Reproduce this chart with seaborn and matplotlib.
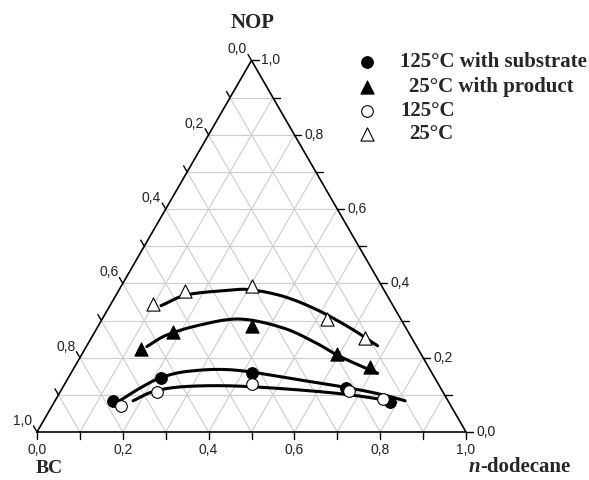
import numpy as np
import pandas as pd
import matplotlib
matplotlib.use("Agg")
import matplotlib.pyplot as plt
import seaborn as sns

sns.set_style("white")
plt.rcParams['font.family'] = ['Liberation Sans', 'DejaVu Sans']

# ---- data: ternary compositions (mass fraction n-dodecane, NOP); BC = 1 - sum ----
series_names = ["125°C with substrate", "25°C with product", "125°C", "25°C"]

dod_sub125 = [0.136, 0.217, 0.423, 0.661, 0.782]
nop_sub125 = [0.084, 0.145, 0.158, 0.119, 0.082]

dod_prod25 = [0.131, 0.184, 0.359, 0.595, 0.688]
nop_prod25 = [0.223, 0.268, 0.286, 0.210, 0.176]

dod_125 = [0.161, 0.225, 0.437, 0.671, 0.763]
nop_125 = [0.071, 0.109, 0.129, 0.111, 0.088]

dod_25 = [0.099, 0.155, 0.305, 0.525, 0.638]
nop_25 = [0.344, 0.380, 0.394, 0.304, 0.253]

# binodal curve nodes
cdod_sub125 = [0.149, 0.181, 0.214, 0.268, 0.374, 0.543, 0.671, 0.757, 0.816]
cnop_sub125 = [0.082, 0.118, 0.145, 0.163, 0.167, 0.140, 0.118, 0.100, 0.084]

cdod_prod25 = [0.141, 0.172, 0.236, 0.321, 0.434, 0.532, 0.605, 0.715]
cnop_prod25 = [0.230, 0.261, 0.288, 0.304, 0.280, 0.239, 0.203, 0.158]

cdod_125 = [0.182, 0.217, 0.280, 0.396, 0.557, 0.680, 0.781]
cnop_125 = [0.084, 0.109, 0.122, 0.124, 0.113, 0.100, 0.084]

cdod_25 = [0.119, 0.164, 0.252, 0.305, 0.392, 0.488, 0.590, 0.678]
cnop_25 = [0.340, 0.369, 0.381, 0.383, 0.365, 0.329, 0.280, 0.232]

tick_values = [0.0, 0.2, 0.4, 0.6, 0.8, 1.0]
tick_labels = ["0,0", "0,2", "0,4", "0,6", "0,8", "1,0"]

H = np.sqrt(3) / 2


def to_xy(dod, nop):
    dod = np.asarray(dod, float)
    nop = np.asarray(nop, float)
    return dod + nop / 2, nop * H


def catmull(px, py, n=25):
    P = np.column_stack([px, py])
    P = np.vstack([2 * P[0] - P[1], P, 2 * P[-1] - P[-2]])
    out = []
    t = np.linspace(0, 1, n, endpoint=False)[:, None]
    for i in range(1, len(P) - 2):
        p0, p1, p2, p3 = P[i - 1], P[i], P[i + 1], P[i + 2]
        out.append(0.5 * ((2 * p1) + (-p0 + p2) * t + (2 * p0 - 5 * p1 + 4 * p2 - p3) * t ** 2
                          + (-p0 + 3 * p1 - 3 * p2 + p3) * t ** 3))
    out.append(P[-2][None])
    o = np.vstack(out)
    return o[:, 0], o[:, 1]


W, Hh = 589, 480
fig = plt.figure(figsize=(W / 100, Hh / 100), dpi=100)
ax = fig.add_axes([0, 0, 1, 1])
S = 429.0
X0, Y0 = 37, 432
ax.set_xlim(-X0 / S, (W - X0) / S)
ax.set_ylim(-(Hh - Y0) / S, Y0 / S)
ax.axis('off')

# grid
grid_c = '#cccccc'
for v in np.arange(1, 10) / 10:
    for (d0, n0, d1, n1) in [(0, v, 1 - v, v), (v, 0, v, 1 - v), (1 - v, 0, 0, 1 - v)]:
        gx, gy = to_xy([d0, d1], [n0, n1])
        ax.plot(gx, gy, color=grid_c, lw=0.8, zorder=1)

# triangle edges
ex, ey = to_xy([0, 1, 0, 0], [0, 0, 1, 0])
ax.plot(ex, ey, color='black', lw=1.2, zorder=3, solid_joinstyle='miter')

# ticks
L = 7 / S
fs_tick = 10
for v in np.arange(0, 11) / 10:
    bx, by = to_xy(v, 0)
    ax.plot([bx, bx], [by, by - L], color='black', lw=1.0, zorder=3)
    rx, ry = to_xy(1 - v, v)
    ax.plot([rx, rx + L], [ry, ry], color='black', lw=1.0, zorder=3)
    lx, ly = to_xy(0, 1 - v)
    ax.plot([lx, lx - 0.5 * L], [ly, ly + H * L], color='black', lw=1.0, zorder=3)

for v, lab in zip(tick_values, tick_labels):
    bx, by = to_xy(v, 0)
    ax.text(bx, by - L - 4 / S, lab, ha='center', va='top', fontsize=fs_tick, color='#222222')
    rx, ry = to_xy(1 - v, v)
    ax.text(rx + L + 3 / S, ry, lab, ha='left', va='center', fontsize=fs_tick, color='#222222')
    lx, ly = to_xy(0, 1 - v)
    ax.text(lx - 0.5 * L - 1 / S, ly + H * L - 2 / S, lab, ha='right', va='bottom',
            fontsize=fs_tick, color='#222222')

# curves
for cd, cn in [(cdod_sub125, cnop_sub125), (cdod_prod25, cnop_prod25),
               (cdod_125, cnop_125), (cdod_25, cnop_25)]:
    cx, cy = to_xy(cd, cn)
    sx, sy = catmull(cx, cy)
    sns.lineplot(x=sx, y=sy, sort=False, estimator=None, color='black', lw=2.2, ax=ax, zorder=4)

# markers
styles = [
    (dod_sub125, nop_sub125, 'o', 'black', 70),
    (dod_prod25, nop_prod25, '^', 'black', 90),
    (dod_125, nop_125, 'o', 'white', 70),
    (dod_25, nop_25, '^', 'white', 90),
]
for d, n, m, fc, s in styles:
    mx, my = to_xy(d, n)
    sns.scatterplot(x=mx, y=my, marker=m, s=s, color=fc, edgecolor='black', linewidth=0.8,
                    ax=ax, zorder=5)

# axis titles
serif = ['Liberation Serif', 'DejaVu Serif']
def px(xp, yp):
    return (xp - X0) / S, (Y0 - yp) / S

ax.text(*px(253, 28), "NOP", ha='center', va='baseline', fontsize=15, fontweight='bold', family=serif)
ax.text(*px(36, 473), "BC", ha='left', va='baseline', fontsize=14, fontweight='bold', family=serif)
ax.text(*px(480, 472), "n", ha='right', va='baseline', fontsize=15, fontweight='bold',
        style='italic', family=serif)
ax.text(*px(480, 472), "-dodecane", ha='left', va='baseline', fontsize=15, fontweight='bold',
        family=serif)

# legend (manual)
leg_y = [62, 87, 111, 134]
leg_m = [('o', 'black', 70), ('^', 'black', 90), ('o', 'white', 70), ('^', 'white', 90)]
leg_tx = [400, 409, 400, 409]
leg_lab = ["125°C with substrate", "25°C with product", "125°C", "25°C"]
for yv, (m, fc, s), tx, lab in zip(leg_y, leg_m, leg_tx, leg_lab):
    ax.scatter(*px(367, yv), marker=m, s=s, c=fc, edgecolors='black', linewidths=0.8, zorder=5)
    ax.text(*px(tx, yv), lab, ha='left', va='center', fontsize=15, fontweight='bold', family=serif)

fig.savefig("out.png", dpi=100)
